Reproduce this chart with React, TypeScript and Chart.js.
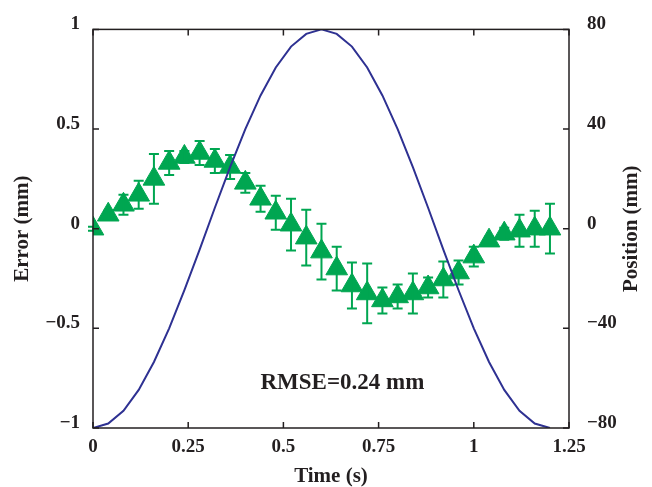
import React, { useEffect, useRef } from "react";
import { Chart, registerables } from "chart.js";

Chart.register(...registerables);

// ---- data ----
const timeS = [
  0, 0.04, 0.08, 0.12, 0.16, 0.2, 0.24, 0.28, 0.32, 0.36, 0.4,
  0.44, 0.48, 0.52, 0.56, 0.6, 0.64, 0.68, 0.72, 0.76, 0.8,
  0.84, 0.88, 0.92, 0.96, 1.0, 1.04, 1.08, 1.12, 1.16, 1.2,
];
const errorMm = [
  0, 0.07, 0.12, 0.17, 0.25, 0.33, 0.36, 0.38, 0.34, 0.31, 0.23,
  0.15, 0.08, 0.02, -0.045, -0.115, -0.2, -0.285, -0.325, -0.36, -0.34,
  -0.325, -0.295, -0.255, -0.22, -0.14, -0.06, -0.025, -0.01, 0.0, 0.0,
];
const errorSd = [
  0.01, 0.02, 0.05, 0.07, 0.125, 0.06, 0.03, 0.06, 0.06, 0.06, 0.05,
  0.065, 0.085, 0.13, 0.14, 0.14, 0.11, 0.115, 0.15, 0.065, 0.06,
  0.1, 0.05, 0.09, 0.06, 0.05, 0.02, 0.03, 0.08, 0.09, 0.125,
];
const positionMm = [
  -80, -78.2, -73.1, -64.7, -53.5, -40, -24.7, -8.4, 8.4, 24.7, 40,
  53.5, 64.7, 73.1, 78.2, 80, 78.2, 73.1, 64.7, 53.5, 40,
  24.7, 8.4, -8.4, -24.7, -40, -53.5, -64.7, -73.1, -78.2, -80,
];
const xTicks = [0, 0.25, 0.5, 0.75, 1, 1.25];
const yTicks = [-1, -0.5, 0, 0.5, 1];
const y2Ticks = [-80, -40, 0, 40, 80];
const rmseText = "RMSE=0.24 mm";
const rmseAt = { x: 0.655, y: -0.775 };
const y2Title = "Position (mm)";

const GREEN = "#00A651";
const BLUE = "#2E3192";
const INK = "#231F20";
const SERIF = '"Liberation Serif", "Times New Roman", serif';

const fmt = (v: number) => String(v).replace("-", "\u2212");

export default function App() {
  const ref = useRef<HTMLCanvasElement>(null);

  useEffect(() => {
    if (!ref.current) return;

    const errorBars = {
      id: "errorBars",
      afterDatasetDraw(chart: any, args: any) {
        if (args.index !== 1) return;
        const { ctx } = chart;
        const xs = chart.scales.x;
        const ys = chart.scales.y;
        ctx.save();
        ctx.strokeStyle = GREEN;
        ctx.lineWidth = 2;
        for (let i = 0; i < timeS.length; i++) {
          const x = xs.getPixelForValue(timeS[i]);
          const yt = ys.getPixelForValue(errorMm[i] + errorSd[i]);
          const yb = ys.getPixelForValue(errorMm[i] - errorSd[i]);
          ctx.beginPath();
          ctx.moveTo(x, yt);
          ctx.lineTo(x, yb);
          ctx.moveTo(x - 5, yt);
          ctx.lineTo(x + 5, yt);
          ctx.moveTo(x - 5, yb);
          ctx.lineTo(x + 5, yb);
          ctx.stroke();
        }
        ctx.restore();
      },
    };

    const frame = {
      id: "frame",
      afterDraw(chart: any) {
        const { ctx, chartArea: a } = chart;
        const xs = chart.scales.x;
        const ys = chart.scales.y;
        const y2 = chart.scales.y2;
        ctx.save();
        ctx.strokeStyle = INK;
        ctx.lineWidth = 1.5;
        ctx.strokeRect(a.left, a.top, a.right - a.left, a.bottom - a.top);
        const tl = 6;
        ctx.beginPath();
        for (const v of xTicks) {
          const x = xs.getPixelForValue(v);
          ctx.moveTo(x, a.bottom);
          ctx.lineTo(x, a.bottom - tl);
          ctx.moveTo(x, a.top);
          ctx.lineTo(x, a.top + tl);
        }
        for (const v of yTicks) {
          const y = ys.getPixelForValue(v);
          ctx.moveTo(a.left, y);
          ctx.lineTo(a.left + tl, y);
        }
        for (const v of y2Ticks) {
          const y = y2.getPixelForValue(v);
          ctx.moveTo(a.right, y);
          ctx.lineTo(a.right - tl, y);
        }
        ctx.stroke();
        ctx.fillStyle = INK;
        ctx.font = `bold 23px ${SERIF}`;
        ctx.textAlign = "center";
        ctx.textBaseline = "middle";
        ctx.fillText(rmseText, xs.getPixelForValue(rmseAt.x), ys.getPixelForValue(rmseAt.y));
        // right axis title, reading bottom-to-top like the left one
        ctx.font = `bold 21px ${SERIF}`;
        ctx.translate(y2.right - 20, (a.top + a.bottom) / 2);
        ctx.rotate(-Math.PI / 2);
        ctx.fillText(y2Title, 0, 0);
        ctx.restore();
      },
    };

    const tickFont = { family: SERIF, size: 19, weight: "bold" as const };
    const titleFont = { family: SERIF, size: 21, weight: "bold" as const };

    const chart = new Chart(ref.current, {
      type: "line",
      data: {
        datasets: [
          {
            label: "Position",
            data: timeS.map((t, i) => ({ x: t, y: positionMm[i] })),
            yAxisID: "y2",
            borderColor: BLUE,
            borderWidth: 2,
            pointRadius: 0,
            tension: 0,
            order: 0,
          },
          {
            label: "Error",
            data: timeS.map((t, i) => ({ x: t, y: errorMm[i] })),
            yAxisID: "y",
            showLine: false,
            pointStyle: "triangle",
            pointRadius: 12.5,
            pointBackgroundColor: GREEN,
            pointBorderColor: GREEN,
            pointBorderWidth: 1,
            order: 1,
          },
        ],
      },
      options: {
        responsive: false,
        animation: false,
        devicePixelRatio: 1,
        layout: { padding: { top: 19, left: 0, right: 0, bottom: 0 } },
        plugins: { legend: { display: false }, tooltip: { enabled: false } },
        scales: {
          x: {
            type: "linear",
            min: 0,
            max: 1.25,
            afterBuildTicks: (s: any) => { s.ticks = xTicks.map((v) => ({ value: v })); },
            afterFit: (s: any) => { s.height = 59; },
            grid: { display: false, drawTicks: false },
            border: { display: false },
            ticks: { font: tickFont, color: INK, padding: 8, maxRotation: 0, autoSkip: false, callback: (v: any) => fmt(v) },
            title: { display: true, text: "Time (s)", font: titleFont, color: INK, padding: { top: 0, bottom: -2 } },
          },
          y: {
            type: "linear",
            position: "left",
            min: -1,
            max: 1,
            afterBuildTicks: (s: any) => { s.ticks = yTicks.map((v) => ({ value: v })); },
            afterFit: (s: any) => { s.width = 93; },
            grid: { display: false, drawTicks: false },
            border: { display: false },
            ticks: { font: tickFont, color: INK, padding: 13, labelOffset: -5, autoSkip: false, callback: (v: any) => fmt(v) },
            title: { display: true, text: "Error (mm)", font: titleFont, color: INK, padding: { top: 10, bottom: 0 } },
          },
          y2: {
            type: "linear",
            position: "right",
            min: -80,
            max: 80,
            afterBuildTicks: (s: any) => { s.ticks = y2Ticks.map((v) => ({ value: v })); },
            afterFit: (s: any) => { s.width = 83; },
            grid: { display: false, drawTicks: false },
            border: { display: false },
            ticks: { font: tickFont, color: INK, padding: 18, labelOffset: -5, autoSkip: false, callback: (v: any) => fmt(v) },
            title: { display: false },
          },
        },
      },
      plugins: [errorBars, frame],
    } as any);

    return () => chart.destroy();
  }, []);

  return (
    <div style={{ position: "fixed", left: 0, top: 0, width: 652, height: 487, background: "#fff" }}>
      <canvas ref={ref} width={652} height={487} style={{ display: "block" }} />
    </div>
  );
}
